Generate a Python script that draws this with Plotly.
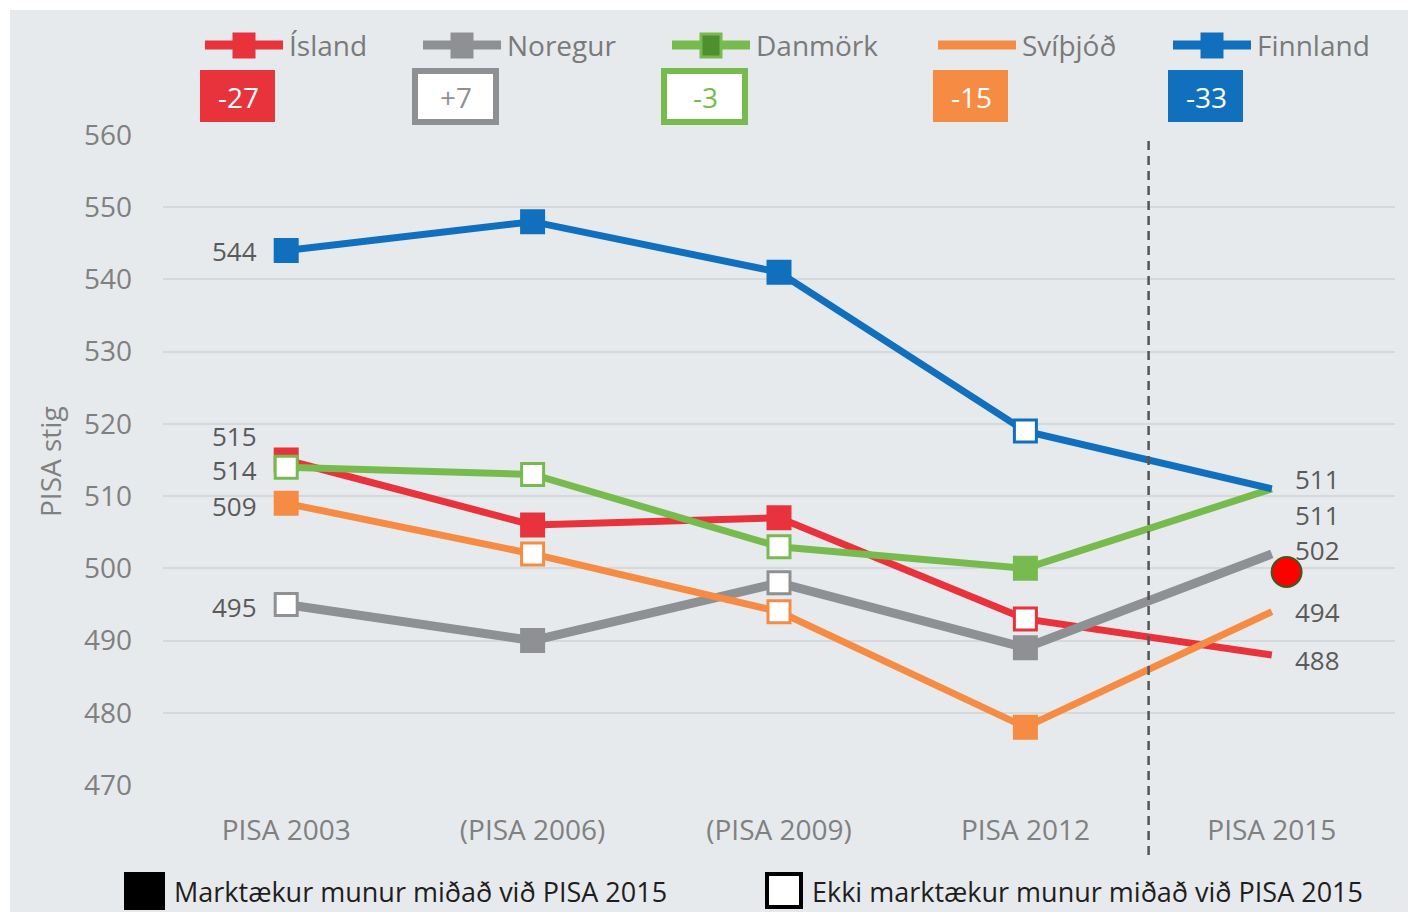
import plotly.graph_objects as go

# page is drawn with an 8px body margin, so size the figure to fit the window
OFF = 8
W, H = 1416 - OFF, 917 - OFF
# plot box in window pixels: x 163..1395, y 135..785
ML, MR, MT, MB = 163 - OFF, 1416 - 1395, 135 - OFF, 917 - 785

# data
years = ["PISA 2003", "(PISA 2006)", "(PISA 2009)", "PISA 2012", "PISA 2015"]
countries = ["Ísland", "Noregur", "Danmörk", "Svíþjóð", "Finnland"]
colors = ["#e8333c", "#8f9093", "#77bb4f", "#f68c43", "#1170bd"]

island = [515, 506, 507, 493, 488]
noregur = [495, 490, 498, 489, 502]
danmork = [514, 513, 503, 500, 511]
svithjod = [509, 502, 494, 478, 494]
finnland = [544, 548, 541, 519, 511]
scores = [island, noregur, danmork, svithjod, finnland]

# marktækur munur (filled) / ekki marktækur (hollow), 2015 has no marker
signif = [
    [True, True, True, False, None],
    [False, True, False, True, None],
    [False, False, False, True, None],
    [True, False, False, True, None],
    [True, True, True, False, None],
]

change = ["-27", "+7", "-3", "-15", "-33"]
change_signif = [True, False, False, True, True]

# label nudges (px) for the first / last values so they don't overlap
left_shift = [24, -3, -3, -3, 0]
right_shift = [-5, 4, -26, 0, 10]

# stray red point near PISA 2015
dot_x = [4.06]
dot_y = [499.5]

BG = "#e7eaec"
TICK = "#808080"
LABEL = "#5a5a5a"
FONT = "Open Sans"

pw = W - ML - MR
ph = H - MT - MB


def px(x):
    # window pixel -> paper x
    return (x - OFF - ML) / pw


def py(y):
    # window pixel -> paper y
    return (H - MB - (y - OFF)) / ph


fig = go.Figure()

for name, col, vals, sig in zip(countries, colors, scores, signif):
    fills = [col if s else "white" for s in sig]
    sizes = [0 if s is None else 22 for s in sig]
    fig.add_trace(go.Scatter(
        x=list(range(len(years))), y=vals, name=name, mode="lines+markers",
        line=dict(color=col, width=9 if name == "Noregur" else 7),
        marker=dict(symbol="square", size=sizes, color=fills, opacity=1,
                    line=dict(color=col, width=3)),
        cliponaxis=False, showlegend=False,
    ))

fig.add_trace(go.Scatter(
    x=dot_x, y=dot_y, mode="markers", showlegend=False,
    marker=dict(size=30, color="#ff0000", opacity=1, line=dict(color="#3d5a1e", width=2)),
))

annotations = []
for i, vals in enumerate(scores):
    annotations.append(dict(x=0, y=vals[0], text=str(vals[0]), showarrow=False,
                            xanchor="right", xshift=-27, yshift=left_shift[i],
                            font=dict(size=26, color=LABEL, family=FONT)))
    annotations.append(dict(x=4, y=vals[-1], text=str(vals[-1]), showarrow=False,
                            xanchor="left", xshift=21, yshift=right_shift[i],
                            font=dict(size=26, color=LABEL, family=FONT)))

shapes = [
    # grey panel behind everything
    dict(type="rect", xref="paper", yref="paper", x0=px(10), x1=px(1420),
         y0=py(912), y1=py(10), fillcolor=BG, line=dict(width=0), layer="below"),
    # 2015 separator
    dict(type="line", xref="x", yref="paper", x0=3.5, x1=3.5, y0=py(855), y1=py(135),
         line=dict(color="#555555", width=2.5, dash="9px,6px")),
]

# top legend with change boxes
leg_x = [205, 423, 672, 938, 1173]
for i, name in enumerate(countries):
    x0 = leg_x[i]
    col = colors[i]
    shapes.append(dict(type="line", xref="paper", yref="paper",
                       x0=px(x0), x1=px(x0 + 78), y0=py(45), y1=py(45),
                       line=dict(color=col, width=9)))
    if name != "Svíþjóð":
        inner = "#4f8f2f" if name == "Danmörk" else col
        shapes.append(dict(type="rect", xref="paper", yref="paper",
                           x0=px(x0 + 29), x1=px(x0 + 49), y0=py(57), y1=py(34),
                           fillcolor=inner, line=dict(color=col, width=3)))
    annotations.append(dict(xref="paper", yref="paper", x=px(x0 + 82), y=py(45),
                            text=name, showarrow=False, xanchor="left", yanchor="middle",
                            font=dict(size=28, color="#7a7a7a", family=FONT)))
    if change_signif[i]:
        shapes.append(dict(type="rect", xref="paper", yref="paper",
                           x0=px(x0 - 5), x1=px(x0 + 70), y0=py(122), y1=py(70),
                           fillcolor=col, line=dict(width=0)))
        tcol = "white"
    else:
        shapes.append(dict(type="rect", xref="paper", yref="paper",
                           x0=px(x0 - 8), x1=px(x0 + 73), y0=py(122), y1=py(71),
                           fillcolor="white", line=dict(color=col, width=6)))
        tcol = col
    annotations.append(dict(xref="paper", yref="paper", x=px(x0 + 33), y=py(97),
                            text=change[i], showarrow=False, xanchor="center", yanchor="middle",
                            font=dict(size=28, color=tcol, family=FONT)))

# bottom key
shapes.append(dict(type="rect", xref="paper", yref="paper", x0=px(125), x1=px(164),
                   y0=py(909), y1=py(873), fillcolor="black", line=dict(color="black", width=2)))
shapes.append(dict(type="rect", xref="paper", yref="paper", x0=px(767), x1=px(801),
                   y0=py(907), y1=py(874), fillcolor="white", line=dict(color="black", width=4)))
annotations.append(dict(xref="paper", yref="paper", x=px(172), y=py(891),
                        text="Marktækur munur miðað við PISA 2015", showarrow=False,
                        xanchor="left", yanchor="middle",
                        font=dict(size=27, color="#1e1e1e", family=FONT)))
annotations.append(dict(xref="paper", yref="paper", x=px(810), y=py(891),
                        text="Ekki marktækur munur miðað við PISA 2015", showarrow=False,
                        xanchor="left", yanchor="middle",
                        font=dict(size=27, color="#1e1e1e", family=FONT)))

# axis title
annotations.append(dict(xref="paper", yref="paper", x=px(50), y=py(462),
                        text="PISA stig", showarrow=False, textangle=-90,
                        xanchor="center", yanchor="middle",
                        font=dict(size=28, color=TICK, family=FONT)))

fig.update_layout(
    width=W, height=H,
    margin=dict(l=ML, r=MR, t=MT, b=MB),
    paper_bgcolor="white", plot_bgcolor=BG,
    font=dict(family=FONT, color=TICK, size=28),
    shapes=shapes, annotations=annotations,
    xaxis=dict(range=[-0.5, 4.5], tickvals=list(range(len(years))), ticktext=years,
               showgrid=False, zeroline=False, showline=False, ticks="",
               ticklabelstandoff=26, tickfont=dict(size=28, color=TICK)),
    yaxis=dict(range=[470, 560], dtick=10, showgrid=True, gridcolor="#d6d9dc", gridwidth=2,
               zeroline=False, showline=False, ticks="", ticklabelstandoff=30,
               tickfont=dict(size=28, color=TICK)),
)

fig.write_html("out.html")
